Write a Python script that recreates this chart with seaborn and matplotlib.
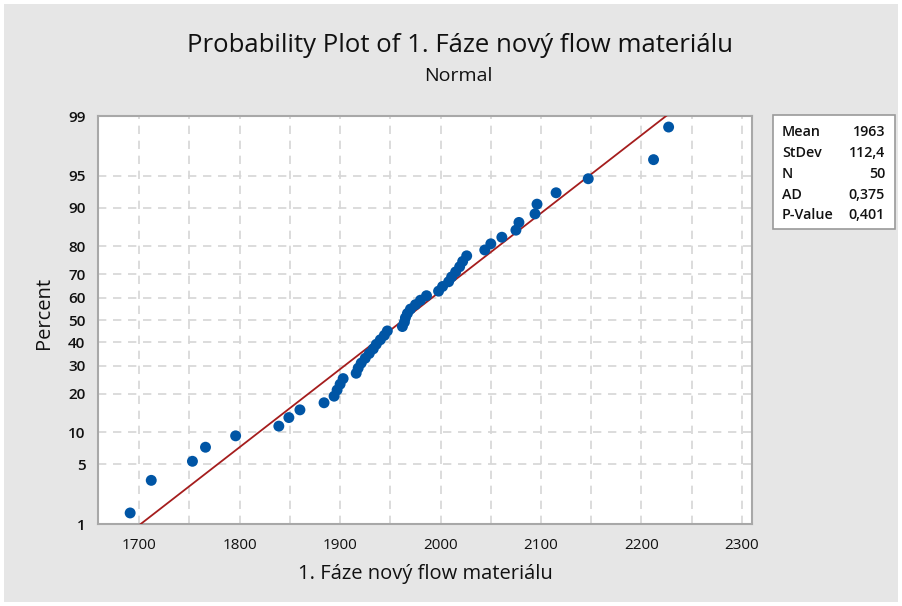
import numpy as np
import pandas as pd
import matplotlib
matplotlib.use('Agg')
import matplotlib.pyplot as plt
from matplotlib.patches import Rectangle
from matplotlib.ticker import FixedLocator, MultipleLocator
import seaborn as sns
from statistics import NormalDist

values = [1691, 1712, 1753, 1766, 1796, 1839, 1849, 1860, 1884, 1894,
          1897, 1900, 1903, 1916, 1918, 1921, 1925, 1929, 1933, 1936,
          1940, 1944, 1947, 1962, 1964, 1965, 1967, 1970, 1975, 1980,
          1986, 1998, 2002, 2008, 2011, 2015, 2019, 2022, 2026, 2044,
          2050, 2061, 2075, 2078, 2094, 2096, 2115, 2147, 2212, 2227]

# Summary statistics shown in the box
mean_val = 1963
stdev_val = 112.4
stat_names = ['Mean', 'StDev', 'N', 'AD', 'P-Value']
stat_texts = ['1963', '112,4', '50', '0,375', '0,401']

percent_ticks = [1, 5, 10, 20, 30, 40, 50, 60, 70, 80, 90, 95, 99]
x_ticks = [1700, 1800, 1900, 2000, 2100, 2200, 2300]

title = 'Probability Plot of 1. Fáze nový flow materiálu'
subtitle = 'Normal'
x_label = '1. Fáze nový flow materiálu'
y_label = 'Percent'

# Median ranks (Benard) as Minitab uses
n = len(values)
ranks = np.arange(1, n + 1)
df = pd.DataFrame({'value': sorted(values),
                   'percent': (ranks - 0.3) / (n + 0.4) * 100})

nd = NormalDist()
_ppf = np.vectorize(nd.inv_cdf, otypes=[float])
_cdf = np.vectorize(nd.cdf, otypes=[float])


def forward(p):
    p = np.clip(np.asarray(p, dtype=float) / 100.0, 1e-9, 1 - 1e-9)
    return _ppf(p)


def inverse(z):
    return _cdf(np.asarray(z, dtype=float)) * 100.0


# Fitted normal line
fit_pct = np.array([0.5, 50, 99.5])
fit_df = pd.DataFrame({'percent': fit_pct,
                       'value': mean_val + stdev_val * forward(fit_pct)})

sns.set_theme(style='white')
plt.rcParams['font.family'] = ['Open Sans', 'DejaVu Sans']

bg = '#e6e6e6'
ink = '#111111'
fig = plt.figure(figsize=(9.02, 6.06), dpi=100, facecolor='white')
fig.patches.append(Rectangle((4 / 902, 4 / 606), 894 / 902, 598 / 606,
                             transform=fig.transFigure, facecolor=bg,
                             edgecolor='none', zorder=-10))
ax = fig.add_axes([98 / 902, 1 - 524 / 606, 654 / 902, 408 / 606])
ax.set_facecolor('white')

sns.lineplot(data=fit_df, x='value', y='percent', ax=ax, color='#a51d1d',
             linewidth=1.3, sort=False, estimator=None, zorder=3)
sns.scatterplot(data=df, x='value', y='percent', ax=ax, color='#0055a5',
                s=62, edgecolor='none', linewidth=0, zorder=4)

ax.set_yscale('function', functions=(forward, inverse))
ax.set_ylim(1, 99)
ax.set_xlim(1659, 2310)

ax.yaxis.set_major_locator(FixedLocator(percent_ticks))
ax.set_yticklabels([str(t) for t in percent_ticks])
ax.yaxis.set_minor_locator(FixedLocator([]))
ax.set_xticks(x_ticks)
ax.set_xticklabels([str(t) for t in x_ticks])
ax.xaxis.set_minor_locator(MultipleLocator(50))

ax.grid(True, which='major', axis='y', color='#d6d6d6', linestyle=(0, (5, 4)), linewidth=1.2)
ax.grid(True, which='both', axis='x', color='#d6d6d6', linestyle=(0, (5, 4)), linewidth=1.2)
ax.set_axisbelow(True)

for s in ax.spines.values():
    s.set_color('#a8a8a8')
    s.set_linewidth(1.5)

ax.tick_params(axis='both', which='major', direction='out', length=6, width=1.2,
               color='#a8a8a8', labelcolor=ink)
ax.tick_params(axis='x', which='major', labelsize=11, pad=4)
ax.tick_params(axis='y', which='major', labelsize=11, pad=3)
ax.tick_params(axis='x', which='minor', length=0)
for lab in ax.get_yticklabels():
    lab.set_fontweight('semibold')

ax.set_xlabel(x_label, fontsize=14.5, color=ink, labelpad=8)
ax.set_ylabel(y_label, fontsize=14.5, color=ink)
ax.yaxis.set_label_coords(-44 / 654, (524 - 313) / 408)

fig.text(460 / 902, 1 - 46 / 606, title, ha='center', va='center',
         fontsize=18.5, color=ink)
fig.text(458 / 902, 1 - 76 / 606, subtitle, ha='center', va='center',
         fontsize=14, color=ink)

# Stats box
fig.patches.append(Rectangle((773 / 902, 1 - 229 / 606), 122 / 902, 114 / 606,
                             transform=fig.transFigure, facecolor='white',
                             edgecolor='#9a9a9a', linewidth=1.2, zorder=5))
row_y = [132, 153, 174, 195, 215]
for name, txt, yy in zip(stat_names, stat_texts, row_y):
    fig.text(782 / 902, 1 - yy / 606, name, ha='left', va='center',
             fontsize=10.3, fontweight='semibold', color=ink, zorder=6)
    fig.text(885 / 902, 1 - yy / 606, txt, ha='right', va='center',
             fontsize=10.3, fontweight='semibold', color=ink, zorder=6)

fig.savefig('out.png', dpi=100, facecolor='white')
